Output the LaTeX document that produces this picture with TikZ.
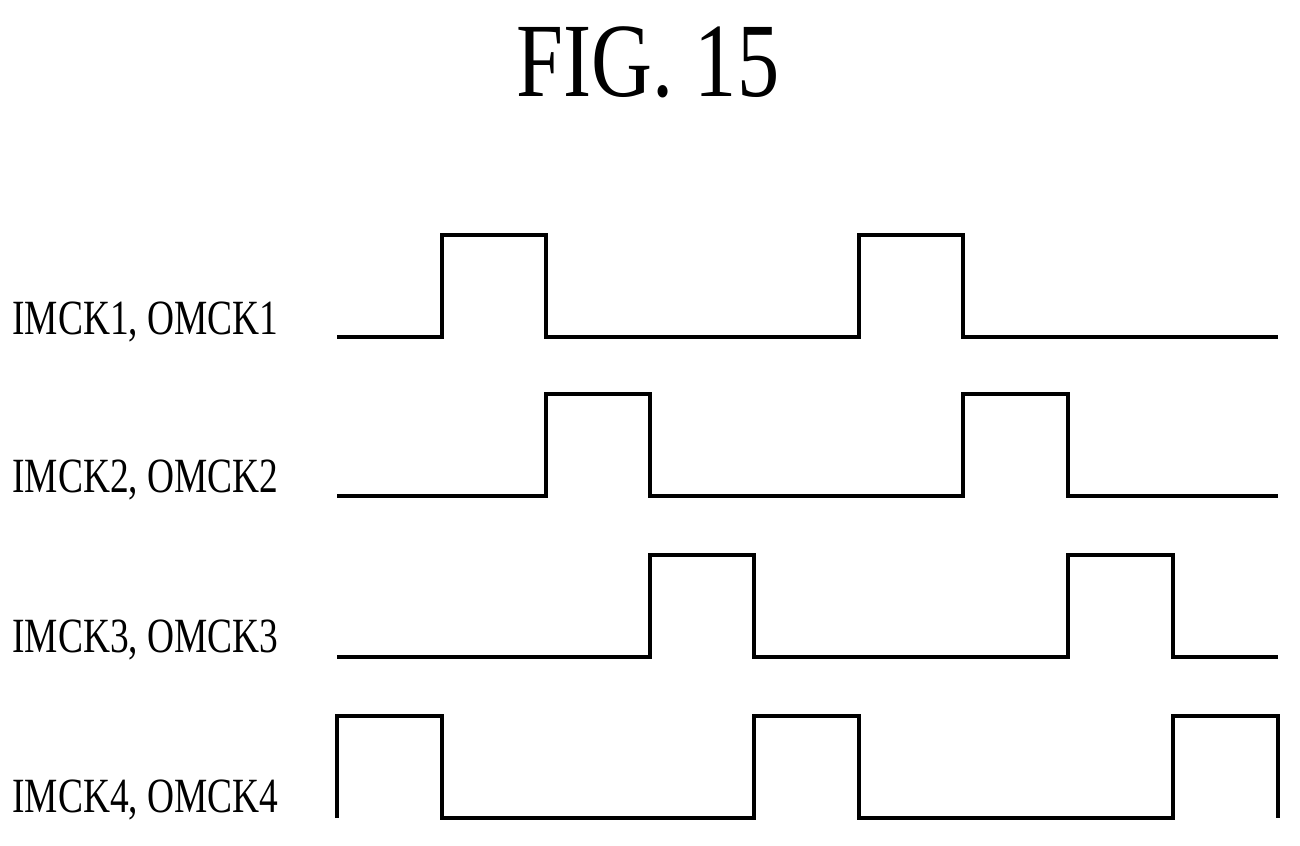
\documentclass[tikz,border=0pt]{standalone}
\usepackage{fontspec}
\setmainfont{Liberation Serif}
\begin{document}
\begin{tikzpicture}[x = 0.01cm, y = -0.01cm, wave/.style = {line width = 1.3pt, line join = miter}, lbl/.style = {anchor = east, xscale = 0.76, font = \fontsize{14}{16}\selectfont}]
	\useasboundingbox (0,0) rectangle (1300,846);
	\node[xscale = 0.8, font = \fontsize{30}{34}\selectfont] (title) at (648,62) {FIG. 15};

	% labels
	\node[lbl] (L1) at (288,322) {IMCK1, OMCK1};
	\node[lbl] (L2) at (288,480) {IMCK2, OMCK2};
	\node[lbl] (L3) at (288,640) {IMCK3, OMCK3};
	\node[lbl] (L4) at (288,800) {IMCK4, OMCK4};

	% waveforms
	\draw[wave] (337,337) -- (442,337) -- (442,235) -- (546,235) -- (546,337) -- (859,337) -- (859,235) -- (963,235) -- (963,337) -- (1278,337);
	\draw[wave] (337,496) -- (546,496) -- (546,394) -- (650,394) -- (650,496) -- (963,496) -- (963,394) -- (1068,394) -- (1068,496) -- (1278,496);
	\draw[wave] (337,657) -- (650,657) -- (650,555) -- (754,555) -- (754,657) -- (1068,657) -- (1068,555) -- (1173,555) -- (1173,657) -- (1278,657);
	\draw[wave] (337,818) -- (337,716) -- (442,716) -- (442,818) -- (754,818) -- (754,716) -- (859,716) -- (859,818) -- (1173,818) -- (1173,716) -- (1278,716) -- (1278,818);
\end{tikzpicture}
\end{document}
